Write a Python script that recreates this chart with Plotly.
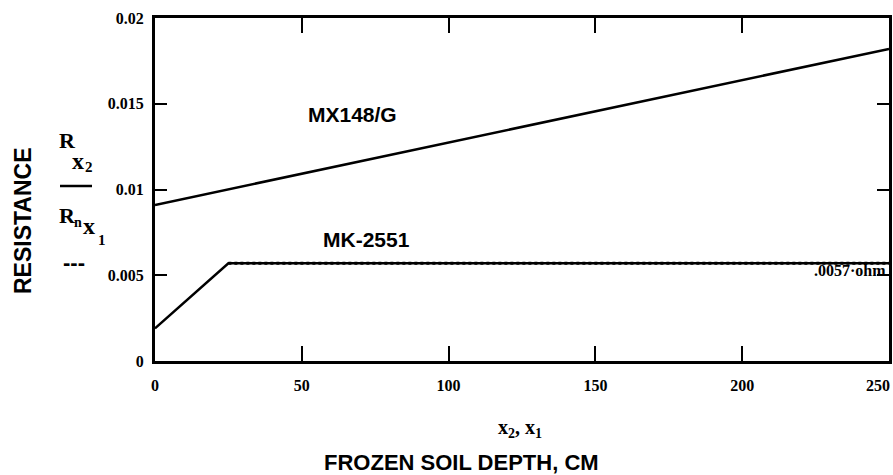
import plotly.graph_objects as go

# Data
depth_mx = [0, 250]
res_mx = [0.0091, 0.0182]

depth_mk = [0, 25, 250]
res_mk = [0.0019, 0.0057, 0.0057]

depth_nom = [25, 250]
res_nom = [0.0057, 0.0057]

x_ticks = [0, 50, 100, 150, 200, 250]
x_ticktext = ["0", "50", "100", "150", "200", "250"]
y_ticks = [0, 0.005, 0.01, 0.015, 0.02]
y_ticktext = ["0", "0.005", "0.01", "0.015", "0.02"]

W, H = 893, 475
L, R, T, B = 155, 4, 18, 114
pw, ph = W - L - R, H - T - B


def px(x):
    return (x - L) / pw


def py(y):
    return (H - B - y) / ph


fig = go.Figure()
fig.add_trace(go.Scatter(x=depth_mx, y=res_mx, mode="lines",
                         line=dict(color="black", width=2.5), showlegend=False))
fig.add_trace(go.Scatter(x=depth_mk, y=res_mk, mode="lines",
                         line=dict(color="black", width=2.5), showlegend=False))
fig.add_trace(go.Scatter(x=depth_nom, y=res_nom, mode="lines",
                         line=dict(color="black", width=3, dash="dot"), showlegend=False))

sans = "Liberation Sans, Arial, sans-serif"
serif = "Liberation Serif, serif"
tickfont = dict(family=serif, size=16, color="black", weight="bold")

# last x tick label is drawn shifted inward (as in the reference), others via axis
x_ticktext_axis = x_ticktext[:-1] + [""]

fig.update_xaxes(range=[0, 250], tickvals=x_ticks, ticktext=x_ticktext_axis,
                 ticks="inside", ticklen=15, tickwidth=2, tickcolor="black",
                 showline=True, linewidth=3, linecolor="black", mirror="ticks",
                 showgrid=False, zeroline=False, tickfont=tickfont,
                 ticklabelstandoff=8, automargin=False)
fig.update_yaxes(range=[0, 0.02], tickvals=y_ticks, ticktext=y_ticktext,
                 ticks="inside", ticklen=12, tickwidth=2, tickcolor="black",
                 showline=True, linewidth=3, linecolor="black", mirror="ticks",
                 showgrid=False, zeroline=False, tickfont=tickfont,
                 ticklabelstandoff=5, automargin=False)


def label(xp, yp, text, family, size, angle=0):
    return dict(x=px(xp), y=py(yp), xref="paper", yref="paper", text=text,
                showarrow=False, xanchor="center", yanchor="middle", textangle=angle,
                font=dict(family=family, size=size, color="black", weight="bold"))


ann = []
ann.append(dict(x=x_ticks[-1], y=0, xref="x", yref="y", text=x_ticktext[-1],
                showarrow=False, xanchor="right", yanchor="top", yshift=-14, xshift=3,
                font=tickfont))
ann.append(dict(x=67.4, y=0.0144, xref="x", yref="y", text="MX148/G", showarrow=False,
                xanchor="center", yanchor="middle",
                font=dict(family=sans, size=21, color="black", weight="bold")))
ann.append(dict(x=72.2, y=0.00706, xref="x", yref="y", text="MK-2551", showarrow=False,
                xanchor="center", yanchor="middle",
                font=dict(family=sans, size=21, color="black", weight="bold")))
ann.append(dict(x=250, y=0.00525, xref="x", yref="y", text=".0057·ohm", showarrow=False,
                xanchor="right", yanchor="middle", xshift=-1,
                font=dict(family=serif, size=16, color="black", weight="bold")))
ann.append(label(23, 221, "RESISTANCE", sans, 23, -90))
# stacked y-axis labels
ann.append(label(67, 140, "R", serif, 22))
ann.append(label(78, 161, "x", serif, 24))
ann.append(label(89, 167, "2", serif, 15))
ann.append(label(67, 216, "R", serif, 22))
ann.append(label(78, 222, "n", serif, 14))
ann.append(label(89, 226, "x", serif, 24))
ann.append(label(102, 240, "1", serif, 15))
ann.append(label(74, 262, "---", sans, 22))
# x labels
ann.append(label(520, 428, "x<sub>2</sub>, x<sub>1</sub>", serif, 20))
ann.append(label(461, 462, "FROZEN SOIL DEPTH, CM", sans, 22))

shapes = [dict(type="line", xref="paper", yref="paper",
               x0=px(60), x1=px(92), y0=py(186), y1=py(186),
               line=dict(color="black", width=2.5))]

fig.update_layout(width=W, height=H, margin=dict(l=L, r=R, t=T, b=B, autoexpand=False),
                  paper_bgcolor="white", plot_bgcolor="white",
                  annotations=ann, shapes=shapes)

fig.write_html("out.html", config={"displayModeBar": False},
               post_script="document.body.style.margin='0';")
